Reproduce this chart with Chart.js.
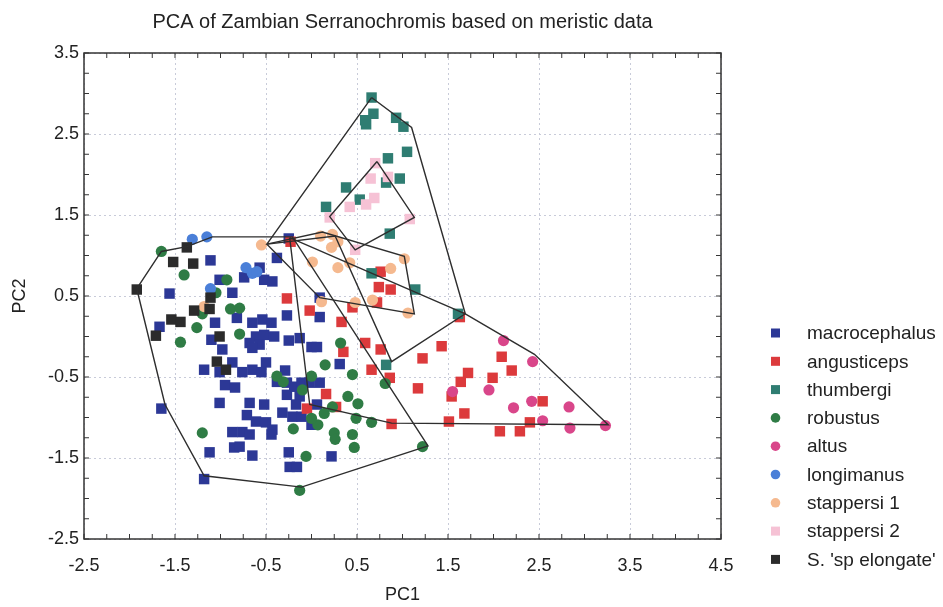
<!DOCTYPE html>
<html>
<head>
<meta charset="utf-8">
<title>PCA of Zambian Serranochromis</title>
<script src="https://cdn.jsdelivr.net/npm/chart.js@4.4.0/dist/chart.umd.min.js"></script>
<style>
    html, body { margin: 0; padding: 0; background: #ffffff; }
    #wrap { width: 943px; height: 607px; }
</style>
</head>
<body>
<div id="wrap"><canvas id="pca-chart" width="943" height="607"></canvas></div>
<script>
var chartTitle = "PCA of Zambian Serranochromis based on meristic data";
var xTicks = [-2.5, -1.5, -0.5, 0.5, 1.5, 2.5, 3.5, 4.5];
var yTicks = [-2.5, -1.5, -0.5, 0.5, 1.5, 2.5, 3.5];

// legend order
var species = ["macrocephalus", "angusticeps", "thumbergi", "robustus", "altus",
               "longimanus", "stappersi 1", "stappersi 2", "S. 'sp elongate'"];
var colours = ["#2c3896", "#dc3a3c", "#2f7d72", "#2f7c45", "#d9468a",
               "#4a7fd8", "#f5b98f", "#f6c2d5", "#2b2b2b"];
var markers = ["rect", "rect", "rect", "circle", "circle", "circle", "circle", "rect", "rect"];

// [PC1, PC2]
var macrocephalus = [
    [-0.25,1.21],[-1.11,0.94],[-0.38,0.97],[-0.57,0.85],[-0.74,0.73],[-0.52,0.70],[-0.43,0.68],[-1.01,0.70],
    [-1.56,0.53],[-0.87,0.54],[-0.27,0.26],[-1.67,0.12],[-1.06,0.17],[-0.82,0.23],[-0.65,0.17],[-0.54,0.21],
    [-0.44,0.17],[-0.61,0.00],[-0.52,0.02],[-0.68,-0.08],[-0.57,-0.10],[-0.65,-0.14],[-0.41,0.00],[-0.25,-0.05],
    [-1.10,-0.04],[-0.98,-0.16],[-0.13,-0.02],[0.00,-0.13],[0.06,-0.13],[0.09,0.24],[0.09,0.48],[0.31,-0.34],
    [-1.18,-0.41],[-1.01,-0.44],[-0.87,-0.32],[-0.76,-0.44],[-0.65,-0.41],[-0.50,-0.32],[-0.55,-0.44],[-0.38,-0.56],
    [-0.29,-0.42],[-0.27,-0.57],[-0.19,-0.62],[-0.11,-0.57],[-0.02,-0.57],[0.09,-0.57],[-0.95,-0.60],[-0.84,-0.63],
    [-0.27,-0.72],[-0.13,-0.74],[-0.17,-0.84],[0.06,-0.84],[-1.01,-0.82],[-0.68,-0.82],[-0.52,-0.84],[-0.32,-0.94],
    [-0.21,-0.99],[-0.11,-0.99],[-0.71,-0.97],[-0.61,-1.05],[-0.50,-1.06],[-0.43,-1.15],[-0.87,-1.18],[-0.76,-1.18],
    [-0.68,-1.21],[-0.44,-1.21],[0.00,-1.09],[-1.65,-0.89],[-1.12,-1.43],[-0.85,-1.37],[-0.79,-1.36],[-0.65,-1.47],
    [-0.25,-1.43],[-0.24,-1.61],[-0.16,-1.61],[0.22,-1.48],[-1.18,-1.76]
];
var angusticeps = [
    [-0.23,1.17],[0.76,0.80],[0.74,0.61],[0.87,0.58],[0.72,0.42],[0.45,0.36],[-0.02,0.32],[-0.27,0.47],
    [0.33,0.18],[0.59,-0.08],[0.76,-0.16],[0.35,-0.19],[1.43,-0.12],[1.22,-0.27],[0.66,-0.41],[0.86,-0.51],
    [0.16,-0.71],[-0.05,-0.89],[0.27,-0.87],[0.88,-1.08],[1.17,-0.64],[1.54,-0.74],[1.51,-1.05],[1.63,0.24],
    [2.09,-0.25],[2.20,-0.42],[1.99,-0.51],[1.72,-0.45],[1.64,-0.56],[1.68,-0.95],[2.40,-1.06],[2.54,-0.80],
    [2.07,-1.17],[2.29,-1.17]
];
var thumbergi = [
    [0.66,2.95],[0.68,2.75],[0.59,2.67],[0.60,2.62],[0.93,2.70],[1.01,2.59],[1.05,2.28],[0.84,2.20],
    [0.97,1.95],[0.82,1.90],[0.38,1.84],[0.53,1.69],[0.16,1.60],[0.86,1.27],[0.66,0.78],[1.14,0.58],
    [1.61,0.28],[0.82,-0.35]
];
var robustus = [
    [-1.65,1.05],[-1.40,0.76],[-0.93,0.70],[-1.05,0.54],[-1.20,0.28],[-0.89,0.34],[-0.79,0.35],[-1.26,0.11],
    [-0.79,0.03],[-1.44,-0.07],[-1.20,-1.19],[-0.38,-0.49],[-0.31,-0.56],[-0.10,-0.66],[0.00,-0.49],[0.15,-0.35],
    [0.32,-0.08],[0.45,-0.47],[0.40,-0.74],[0.51,-0.83],[0.23,-0.87],[0.14,-0.95],[0.07,-1.09],[0.00,-1.01],
    [-0.20,-1.14],[0.25,-1.19],[0.26,-1.27],[0.45,-1.21],[0.47,-1.37],[-0.06,-1.48],[-0.13,-1.90],[0.66,-1.06],
    [0.49,-1.01],[0.81,-0.58],[1.22,-1.36]
];
var altus = [
    [2.11,-0.05],[2.43,-0.31],[1.55,-0.68],[1.95,-0.66],[2.22,-0.88],[2.42,-0.80],[2.83,-0.87],[2.54,-1.04],
    [2.84,-1.13],[3.23,-1.10]
];
var longimanus = [[-1.31,1.20],[-1.15,1.23],[-0.72,0.85],[-0.65,0.78],[-0.60,0.80],[-1.11,0.59]];
var stappersi1 = [
    [-0.55,1.13],[-1.18,0.37],[0.10,1.24],[0.23,1.26],[0.29,1.17],[0.22,1.10],[0.01,0.92],[0.29,0.85],
    [0.42,0.91],[0.87,0.84],[1.02,0.96],[0.67,0.45],[0.48,0.42],[0.11,0.43],[1.06,0.29]
];
var stappersi2 = [[0.70,2.14],[0.65,1.95],[0.84,1.97],[0.69,1.71],[0.60,1.63],[0.42,1.60],[0.20,1.47],[0.48,1.07],[1.08,1.45]];
var elongate = [
    [-1.92,0.58],[-1.37,1.10],[-1.52,0.92],[-1.30,0.90],[-1.11,0.48],[-1.12,0.34],[-1.29,0.32],[-1.54,0.21],
    [-1.44,0.18],[-1.71,0.01],[-1.01,0.00],[-1.04,-0.31],[-0.94,-0.41]
];

// outlines drawn round the groups
var hullLeft = [[-1.92,0.59],[-1.65,1.05],[-1.37,1.11],[-1.09,1.23],[-0.21,1.23],[1.28,-1.35],[-0.11,-1.86],[-1.18,-1.72],[-1.61,-0.84]];
var hullAngusticeps = [[-0.24,1.22],[1.69,0.28],[2.45,-0.22],[3.26,-1.09],[0.88,-1.07],[-0.02,-0.84]];
var hullThumbergi = [[0.66,2.95],[1.10,2.58],[1.69,0.28],[0.88,-0.31],[0.26,1.24],[-0.49,1.14]];
var hullStappersi1 = [[-0.49,1.14],[0.12,1.29],[1.02,0.99],[1.13,0.28],[0.09,0.48]];
var hullStappersi2 = [[0.72,2.16],[1.13,1.47],[0.48,1.07],[0.20,1.48]];

var groups = [macrocephalus, angusticeps, thumbergi, robustus, altus, longimanus, stappersi1, stappersi2, elongate];
var hulls = [hullLeft, hullAngusticeps, hullThumbergi, hullStappersi1, hullStappersi2];

function toPoints(arr) {
    return arr.map(function (p) { return {x: p[0], y: p[1]}; });
}

var datasets = [];
for (var i = 0; i < hulls.length; i++) {
    var pts = toPoints(hulls[i]);
    pts.push(pts[0]);
    datasets.push({
        label: "hull" + i,
        data: pts,
        showLine: true,
        borderColor: "#2e2e2e",
        borderWidth: 1.4,
        pointRadius: 0,
        fill: false,
        order: 0
    });
}
for (var i = 0; i < groups.length; i++) {
    datasets.push({
        label: species[i],
        data: toPoints(groups[i]),
        pointStyle: markers[i],
        pointRadius: markers[i] == "rect" ? 7.4 : 5.6,
        pointHoverRadius: markers[i] == "rect" ? 7.4 : 5.6,
        backgroundColor: colours[i],
        borderWidth: 0,
        order: groups.length - i
    });
}

var fontFamily = '"Liberation Sans", Arial, sans-serif';

var decorations = {
    id: "decorations",
    afterDraw: function (chart) {
        var ctx = chart.ctx;
        var a = chart.chartArea;
        var xs = chart.scales.x, ys = chart.scales.y;
        ctx.save();
        ctx.strokeStyle = "#353535";
        ctx.lineWidth = 1.5;
        ctx.strokeRect(a.left, a.top, a.right - a.left, a.bottom - a.top);

        // small inward ticks every 0.25
        ctx.lineWidth = 1;
        ctx.beginPath();
        for (var v = -2.5; v <= 4.501; v += 0.25) {
            var px = xs.getPixelForValue(v);
            ctx.moveTo(px, a.top); ctx.lineTo(px, a.top + 5);
            ctx.moveTo(px, a.bottom); ctx.lineTo(px, a.bottom - 5);
        }
        for (var v = -2.5; v <= 3.501; v += 0.25) {
            var py = ys.getPixelForValue(v);
            ctx.moveTo(a.left, py); ctx.lineTo(a.left + 5, py);
            ctx.moveTo(a.right, py); ctx.lineTo(a.right - 5, py);
        }
        ctx.stroke();

        // title
        ctx.fillStyle = "#222222";
        ctx.font = "20px " + fontFamily;
        ctx.textAlign = "center";
        ctx.textBaseline = "alphabetic";
        ctx.fillText(chartTitle, (a.left + a.right) / 2, 28);

        // legend
        ctx.font = "19px " + fontFamily;
        ctx.textAlign = "left";
        ctx.textBaseline = "middle";
        for (var i = 0; i < species.length; i++) {
            var y = 333 + i * 28.3;
            ctx.fillStyle = colours[i];
            if (markers[i] == "rect") {
                ctx.fillRect(771, y - 4.5, 9, 9);
            } else {
                ctx.beginPath();
                ctx.arc(775.5, y, 4.8, 0, Math.PI * 2);
                ctx.fill();
            }
            ctx.fillStyle = "#222222";
            ctx.fillText(species[i], 807, y + 1);
        }
        ctx.restore();
    }
};

var ctx = document.getElementById("pca-chart");
var chart = new Chart(ctx, {
    type: "scatter",
    data: { datasets: datasets },
    options: {
        responsive: false,
        animation: false,
        events: [],
        layout: { padding: { left: 0, right: 222, top: 53, bottom: 0 } },
        plugins: {
            legend: { display: false },
            title: { display: false },
            tooltip: { enabled: false }
        },
        scales: {
            x: {
                type: "linear",
                min: -2.5,
                max: 4.5,
                afterBuildTicks: function (scale) {
                    scale.ticks = xTicks.map(function (v) { return {value: v}; });
                },
                afterFit: function (scale) { scale.height = 68; },
                grid: { color: "#c8cbd9", lineWidth: 1, drawTicks: false },
                border: { display: false, dash: [2, 3] },
                ticks: {
                    padding: 16,
                    color: "#222222",
                    font: { size: 18, family: fontFamily },
                    callback: function (v) { return String(v); }
                },
                title: {
                    display: true,
                    text: "PC1",
                    color: "#222222",
                    font: { size: 18, family: fontFamily },
                    padding: { top: 0, bottom: 1 }
                }
            },
            y: {
                type: "linear",
                min: -2.5,
                max: 3.5,
                afterBuildTicks: function (scale) {
                    scale.ticks = yTicks.map(function (v) { return {value: v}; });
                },
                afterFit: function (scale) { scale.width = 84; },
                grid: { color: "#c8cbd9", lineWidth: 1, drawTicks: false },
                border: { display: false, dash: [2, 3] },
                ticks: {
                    padding: 5,
                    color: "#222222",
                    font: { size: 18, family: fontFamily },
                    callback: function (v) { return String(v); }
                },
                title: {
                    display: true,
                    text: "PC2",
                    color: "#222222",
                    font: { size: 18, family: fontFamily },
                    padding: { top: 9, bottom: 0 }
                }
            }
        }
    },
    plugins: [decorations]
});
</script>
</body>
</html>
